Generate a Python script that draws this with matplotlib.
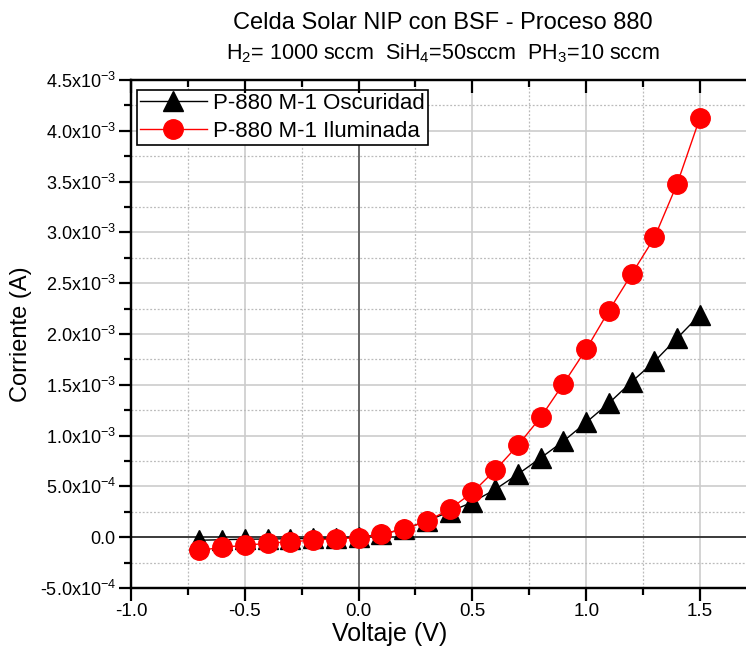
import numpy as np
import matplotlib.pyplot as plt
from matplotlib.ticker import MultipleLocator, FuncFormatter

plt.rcParams['font.family'] = ['Liberation Sans', 'DejaVu Sans']
plt.rcParams['mathtext.fontset'] = 'custom'
plt.rcParams['mathtext.rm'] = 'Liberation Sans'
plt.rcParams['mathtext.it'] = 'Liberation Sans'
plt.rcParams['mathtext.bf'] = 'Liberation Sans'

# Voltage sweep (V)
voltaje = [-0.7, -0.6, -0.5, -0.4, -0.3, -0.2, -0.1, 0.0, 0.1, 0.2, 0.3, 0.4,
           0.5, 0.6, 0.7, 0.8, 0.9, 1.0, 1.1, 1.2, 1.3, 1.4, 1.5]

# Dark current (A)
oscuridad = [-0.03e-3, -0.025e-3, -0.02e-3, -0.018e-3, -0.015e-3, -0.012e-3, -0.008e-3,
             0.0, 0.03e-3, 0.08e-3, 0.16e-3, 0.25e-3, 0.345e-3, 0.47e-3, 0.62e-3,
             0.78e-3, 0.945e-3, 1.13e-3, 1.32e-3, 1.53e-3, 1.73e-3, 1.96e-3, 2.19e-3]

# Illuminated current (A)
iluminada = [-0.13e-3, -0.10e-3, -0.08e-3, -0.06e-3, -0.045e-3, -0.03e-3, -0.015e-3,
             -0.005e-3, 0.03e-3, 0.08e-3, 0.157e-3, 0.275e-3, 0.44e-3, 0.66e-3, 0.905e-3,
             1.18e-3, 1.51e-3, 1.85e-3, 2.23e-3, 2.59e-3, 2.95e-3, 3.48e-3, 4.13e-3]

fig = plt.figure(figsize=(7.46, 6.5), dpi=100)
ax = fig.add_axes([0.1756, 0.0954, 0.839, 0.7815])

ax.plot(voltaje, oscuridad, color='black', linewidth=1, marker='^', markersize=14,
        label='P-880 M-1 Oscuridad', zorder=3)
ax.plot(voltaje, iluminada, color='red', linewidth=1, marker='o', markersize=14,
        label='P-880 M-1 Iluminada', zorder=4)

ax.axvline(0, color='#555555', linewidth=1.2, zorder=2)
ax.axhline(0, color='#222222', linewidth=1.2, zorder=2)

ax.set_xlim(-1.0, 1.75)
ax.set_ylim(-5e-4, 4.5e-3)

ax.xaxis.set_major_locator(MultipleLocator(0.5))
ax.xaxis.set_minor_locator(MultipleLocator(0.25))
ax.yaxis.set_major_locator(MultipleLocator(5e-4))
ax.yaxis.set_minor_locator(MultipleLocator(2.5e-4))


def fmt_y(v, pos):
    if abs(v) < 1e-12:
        return '0.0'
    exp = int(np.floor(np.log10(abs(v)) + 1e-9))
    mant = v / 10 ** exp
    return '%.1fx10$^{%d}$' % (mant, exp)


ax.yaxis.set_major_formatter(FuncFormatter(fmt_y))
ax.xaxis.set_major_formatter(FuncFormatter(lambda v, p: '%.1f' % v))

ax.grid(which='major', color='#cccccc', linewidth=1.2, linestyle='-', zorder=0)
ax.grid(which='minor', color='#bbbbbb', linewidth=0.9, linestyle=(0, (1.5, 1.5)), zorder=0)
ax.set_axisbelow(True)

for s in ax.spines.values():
    s.set_linewidth(1.6)

ax.tick_params(axis='both', which='major', direction='out', length=9, width=1.6,
               labelsize=13, pad=2)
ax.tick_params(axis='both', which='minor', direction='out', length=5, width=1.6)
ax.tick_params(axis='x', which='major', labelsize=13.5)

# top axis: inward ticks, no labels
top = ax.twiny()
top.set_xlim(ax.get_xlim())
top.xaxis.set_major_locator(MultipleLocator(0.5))
top.xaxis.set_minor_locator(MultipleLocator(0.25))
top.tick_params(which='major', direction='in', length=9, width=1.6, labeltop=False)
top.tick_params(which='minor', direction='in', length=5, width=1.6)
for s in top.spines.values():
    s.set_linewidth(1.6)

ax.set_xlabel('Voltaje (V)', fontsize=18, labelpad=0)
ax.xaxis.set_label_coords(0.414, -0.066)
ax.set_ylabel('Corriente (A)', fontsize=17)
ax.yaxis.set_label_coords(-0.158, 0.5)

fig.text(0.594, 0.965, 'Celda Solar NIP con BSF - Proceso 880', ha='center', va='center',
         fontsize=17)
fig.text(0.594, 0.918, 'H$_2$= 1000 sccm  SiH$_4$=50sccm  PH$_3$=10 sccm', ha='center',
         va='center', fontsize=15.5)

leg = ax.legend(loc='upper left', bbox_to_anchor=(0.002, 0.99), fancybox=False,
                edgecolor='black', framealpha=1, borderpad=0.15, handlelength=3.0,
                handletextpad=0.3, labelspacing=0.3, borderaxespad=0.2,
                prop={'family': 'Liberation Sans', 'size': 16})
leg.get_frame().set_linewidth(1.2)

fig.savefig('out.png', dpi=100)
